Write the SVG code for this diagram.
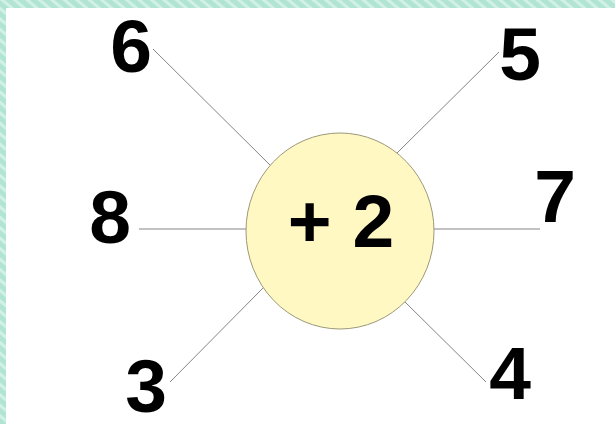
<svg xmlns="http://www.w3.org/2000/svg" width="615" height="424" viewBox="0 0 615 424">
<style>
.num{font-family:"Liberation Sans",Arial,sans-serif;font-weight:bold;font-size:75px;fill:#000;text-anchor:middle}
.conn line{stroke:#858585;stroke-width:1}
</style>
<defs>
<pattern id="bg" width="8" height="8" patternUnits="userSpaceOnUse" patternTransform="rotate(-50)">
<rect width="8" height="8" fill="#b2e4d4"/>
<rect width="3" height="8" fill="#d2f1e6"/>
</pattern>
</defs>
<rect width="615" height="424" fill="url(#bg)"/>
<rect x="6" y="8" width="609" height="416" fill="#fff"/>
<g id="connectors" class="conn">
<line x1="153" y1="49" x2="270" y2="165"/>
<line x1="499" y1="52" x2="397" y2="153"/>
<line x1="139" y1="229" x2="246" y2="229"/>
<line x1="434" y1="229" x2="540" y2="229"/>
<line x1="170" y1="382" x2="263" y2="288"/>
<line x1="405" y1="302" x2="486" y2="382"/>
</g>
<g id="center">
<ellipse cx="340" cy="231" rx="94" ry="98" fill="#fff8c2" stroke="#9c9878" stroke-width="1"/>
<text class="num" x="341" y="247">+ 2</text>
</g>
<g id="n6"><text class="num" x="131" y="72">6</text></g>
<g id="n5"><text class="num" x="520" y="80">5</text></g>
<g id="n8"><text class="num" x="110" y="243">8</text></g>
<g id="n7"><text class="num" x="555" y="222">7</text></g>
<g id="n3"><text class="num" x="146" y="412">3</text></g>
<g id="n4"><text class="num" x="510" y="399">4</text></g>
</svg>
